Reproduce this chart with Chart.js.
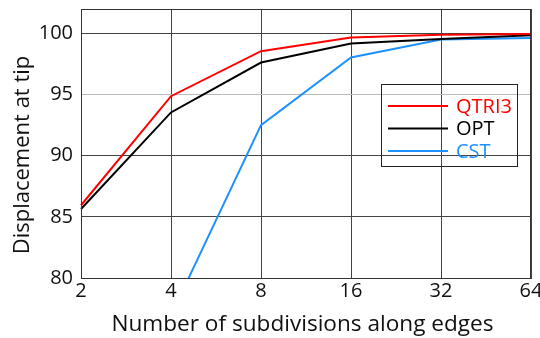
<!DOCTYPE html>
<html><head><meta charset="utf-8">
<script src="https://cdn.jsdelivr.net/npm/chart.js@4/dist/chart.umd.min.js"></script>
<style>html,body{margin:0;padding:0;background:#fff}#c{display:block}</style>
</head><body>
<canvas id="c" width="540" height="338"></canvas>
<script>
const categories = ['2','4','8','16','32','64'];
const qtri3 = [85.95, 94.87, 98.55, 99.66, 99.9, 99.96];
const opt   = [85.64, 93.54, 97.62, 99.17, 99.55, 99.85];
const cst   = [null, 76.95, 92.5, 98.03, 99.5, 99.63];
const yTicks = [80, 85, 90, 95, 100];
const seriesNames = ['QTRI3', 'OPT', 'CST'];
const seriesColors = ['#ff0000', '#000000', '#1e90ff'];
const xTitle = 'Number of subdivisions along edges';
const yTitle = 'Displacement at tip';

const FONT = "'Open Sans', 'DejaVu Sans', sans-serif";

const legendPlugin = {
  id: 'boxLegend',
  afterDraw(chart) {
    const ctx = chart.ctx;
    const x0 = 381.5, y0 = 84.5, w = 136, h = 82;
    ctx.save();
    ctx.strokeStyle = '#222';
    ctx.lineWidth = 1;
    ctx.strokeRect(x0, y0, w, h);
    ctx.font = '20px ' + FONT;
    ctx.textBaseline = 'middle';
    chart.data.datasets.forEach((ds, i) => {
      const y = 106 + i * 22.5;
      ctx.strokeStyle = ds.borderColor;
      ctx.lineWidth = 2;
      ctx.beginPath();
      ctx.moveTo(388, y);
      ctx.lineTo(448, y);
      ctx.stroke();
      ctx.fillStyle = ds.borderColor;
      ctx.fillText(ds.label, 456, y + 1);
    });
    ctx.restore();
  }
};

const titlesPlugin = {
  id: 'axisTitles',
  afterDraw(chart) {
    const ctx = chart.ctx;
    ctx.save();
    ctx.fillStyle = '#111';
    ctx.font = '22.6px ' + FONT;
    ctx.textAlign = 'center';
    ctx.textBaseline = 'middle';
    ctx.fillText(xTitle, 302.5, 324.5);
    ctx.translate(23, 155);
    ctx.rotate(-Math.PI / 2);
    ctx.font = '22px ' + FONT;
    ctx.fillText(yTitle, 0, 0);
    ctx.restore();
  }
};

new Chart(document.getElementById('c'), {
  type: 'line',
  data: {
    labels: categories,
    datasets: [
      { label: seriesNames[0], data: qtri3, borderColor: seriesColors[0] },
      { label: seriesNames[1], data: opt, borderColor: seriesColors[1] },
      { label: seriesNames[2], data: cst, borderColor: seriesColors[2] }
    ].map(d => Object.assign(d, { borderWidth: 2, pointRadius: 0, tension: 0, fill: false, spanGaps: false }))
  },
  options: {
    responsive: false,
    animation: false,
    devicePixelRatio: 1,
    layout: { padding: { top: 9, right: 9, left: 0, bottom: 0 } },
    plugins: { legend: { display: false }, tooltip: { enabled: false } },
    scales: {
      x: {
        type: 'category',
        offset: false,
        grid: { color: '#444', lineWidth: 1, drawTicks: false },
        border: { color: '#333', width: 1 },
        ticks: { color: '#111', font: { family: FONT, size: 20 }, padding: 1, maxRotation: 0, autoSkip: false },
        title: { display: false, text: xTitle },
        afterFit(s) { s.height = 60; s.paddingLeft = 0; s.paddingRight = 0; }
      },
      y: {
        min: 80, max: 102,
        afterBuildTicks(s) { s.ticks = yTicks.map(v => ({ value: v })); },
        grid: { color: ctx => (ctx.tick && ctx.tick.value === 95) ? '#bbb' : '#444', lineWidth: 1, drawTicks: false },
        border: { color: '#333', width: 1 },
        ticks: { color: '#111', font: { family: FONT, size: 20 }, padding: 8 },
        title: { display: false, text: yTitle },
        afterFit(s) { s.width = 81; s.paddingTop = 0; s.paddingBottom = 0; }
      }
    }
  },
  plugins: [legendPlugin, titlesPlugin, {
    id: 'frame',
    afterDraw(chart) {
      const a = chart.chartArea, ctx = chart.ctx;
      ctx.save(); ctx.strokeStyle = '#333'; ctx.lineWidth = 1;
      ctx.strokeRect(Math.round(a.left) + 0.5, Math.round(a.top) + 0.5, Math.round(a.right - a.left) - 1, Math.round(a.bottom - a.top));
      ctx.restore();
    }
  }]
});
</script>
</body></html>
